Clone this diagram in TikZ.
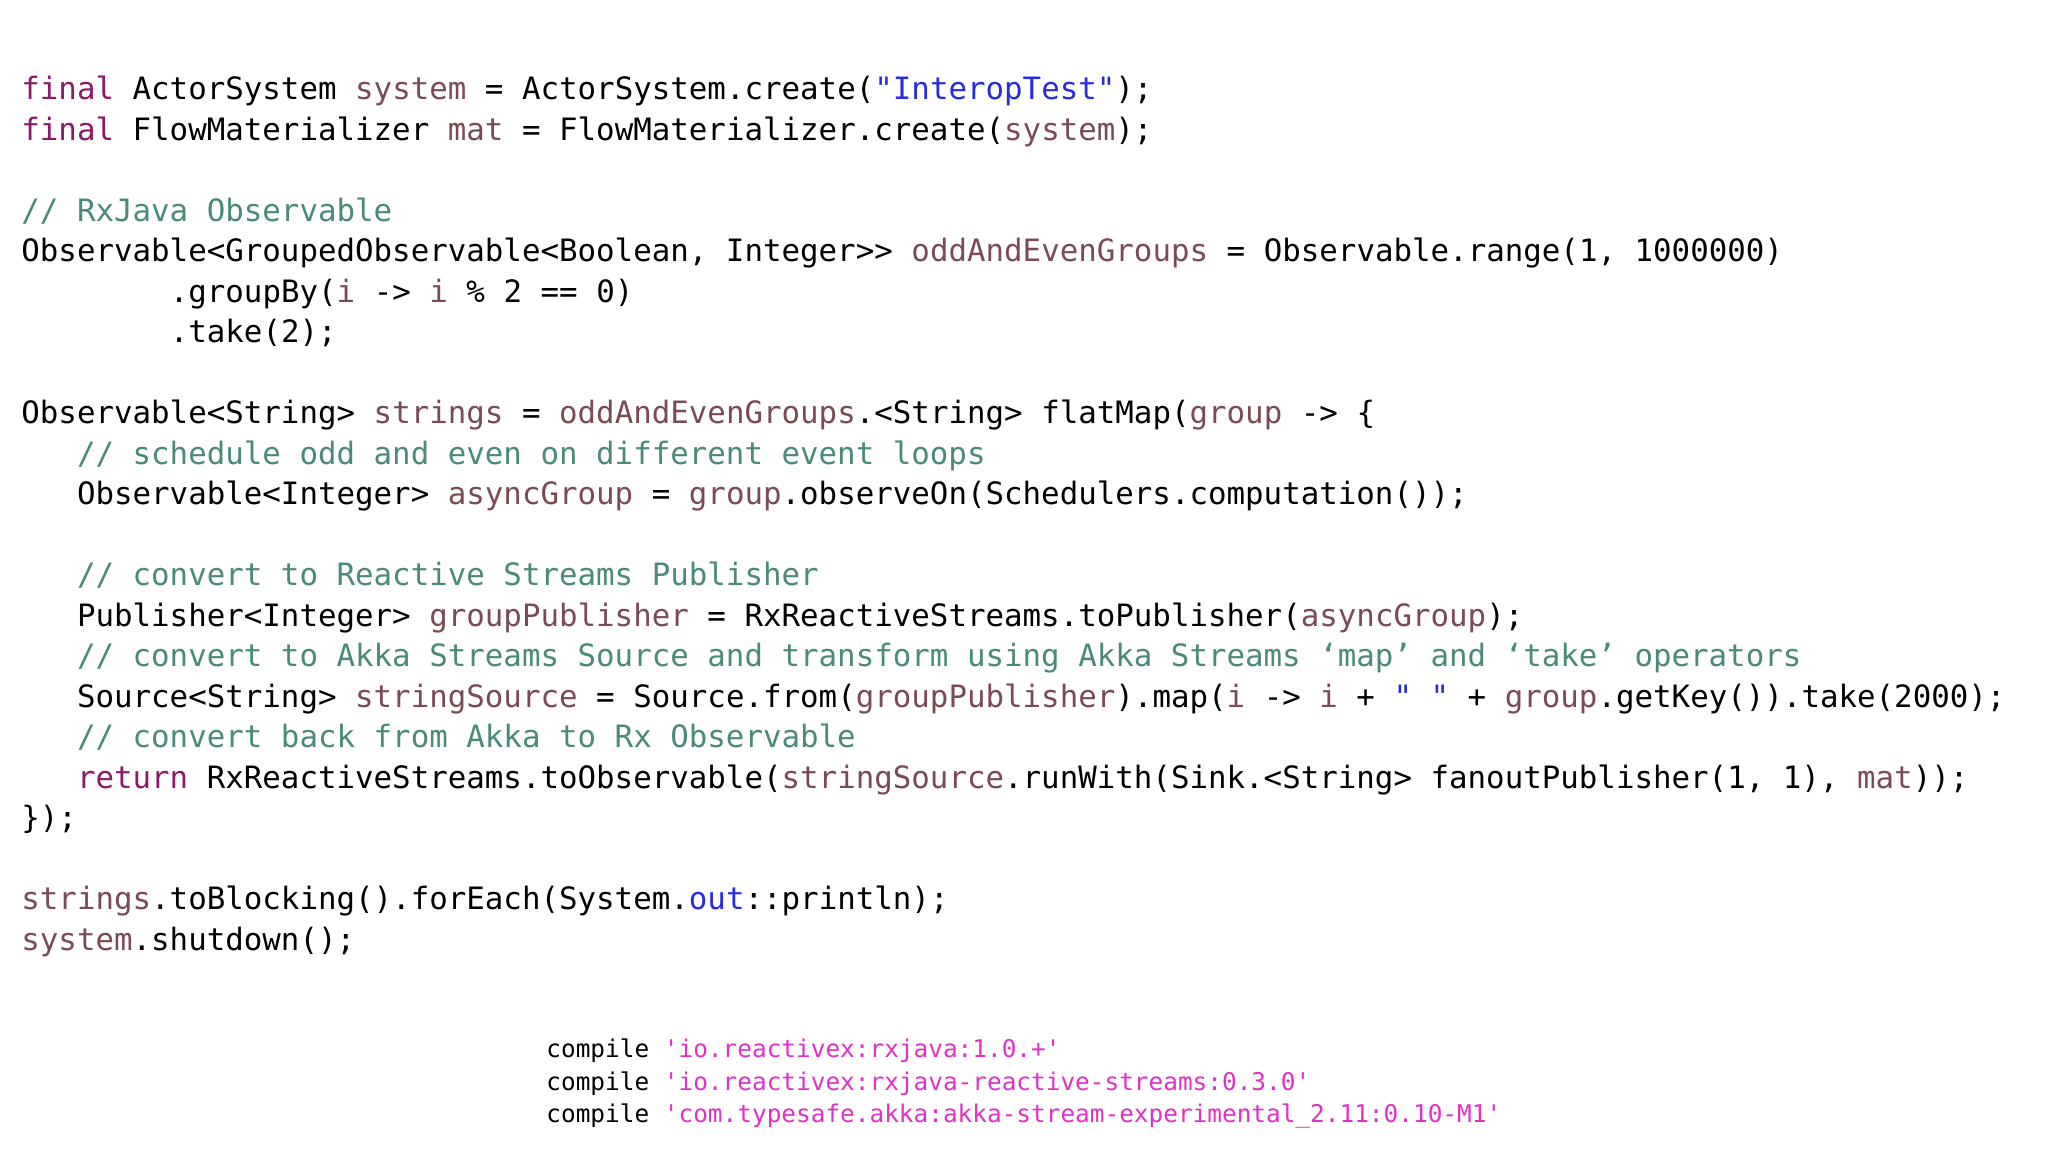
\documentclass[tikz,border=0pt]{standalone}
\usepackage{fontspec}
\setmonofont{DejaVu Sans Mono}
\definecolor{kw}{HTML}{8B1A6B}
\definecolor{vr}{HTML}{7A4B55}
\definecolor{cm}{HTML}{4A8A78}
\definecolor{st}{HTML}{2A2AE0}
\definecolor{mg}{HTML}{E030C8}
\newcommand{\K}[1]{\textcolor{kw}{#1}}
\newcommand{\V}[1]{\textcolor{vr}{#1}}
\newcommand{\Cm}[1]{\textcolor{cm}{#1}}
\newcommand{\Sx}[1]{\textcolor{st}{#1}}
\newcommand{\M}[1]{\textcolor{mg}{#1}}
\begin{document}
\begin{tikzpicture}[x=1pt,y=1pt,
  code/.style={anchor=base west,inner sep=0pt,font=\fontsize{15.4}{18}\ttfamily},
  dep/.style={anchor=base west,inner sep=0pt,font=\fontsize{12.2}{14}\ttfamily}]
\useasboundingbox (0,0) rectangle (1024,576);
\def\L{20.25}
\def\T{526.2}
\def\X{10.5}
\def\I{27.8}
\node[code] (l0) at (\X,\T) {\K{final} ActorSystem \V{system} = ActorSystem.create(\Sx{"InteropTest"});};
\node[code] (l1) at (\X,\T-1*\L) {\K{final} FlowMaterializer \V{mat} = FlowMaterializer.create(\V{system});};
\node[code] (l3) at (\X,\T-3*\L) {\Cm{// RxJava Observable}};
\node[code] (l4) at (\X,\T-4*\L) {Observable<GroupedObservable<Boolean, Integer>{}> \V{oddAndEvenGroups} = Observable.range(1, 1000000)};
\node[code] (l5) at (\X+74.2,\T-5*\L) {.groupBy(\V{i} -> \V{i} \% 2 == 0)};
\node[code] (l6) at (\X+74.2,\T-6*\L) {.take(2);};
\node[code] (l8) at (\X,\T-8*\L) {Observable<String> \V{strings} = \V{oddAndEvenGroups}.<String> flatMap(\V{group} -> \{};
\node[code] (l9) at (\X+\I,\T-9*\L) {\Cm{// schedule odd and even on different event loops}};
\node[code] (l10) at (\X+\I,\T-10*\L) {Observable<Integer> \V{asyncGroup} = \V{group}.observeOn(Schedulers.computation());};
\node[code] (l12) at (\X+\I,\T-12*\L) {\Cm{// convert to Reactive Streams Publisher}};
\node[code] (l13) at (\X+\I,\T-13*\L) {Publisher<Integer> \V{groupPublisher} = RxReactiveStreams.toPublisher(\V{asyncGroup});};
\node[code] (l14) at (\X+\I,\T-14*\L) {\Cm{// convert to Akka Streams Source and transform using Akka Streams ‘map’ and ‘take’ operators}};
\node[code] (l15) at (\X+\I,\T-15*\L) {Source<String> \V{stringSource} = Source.from(\V{groupPublisher}).map(\V{i} -> \V{i} + \Sx{" "} + \V{group}.getKey()).take(2000);};
\node[code] (l16) at (\X+\I,\T-16*\L) {\Cm{// convert back from Akka to Rx Observable}};
\node[code] (l17) at (\X+\I,\T-17*\L) {\K{return} RxReactiveStreams.toObservable(\V{stringSource}.runWith(Sink.<String> fanoutPublisher(1, 1), \V{mat}));};
\node[code] (l18) at (\X,\T-18*\L) {\});};
\node[code] (l20) at (\X,\T-20*\L) {\V{strings}.toBlocking().forEach(System.\Sx{out}::println);};
\node[code] (l21) at (\X,\T-21*\L) {\V{system}.shutdown();};
\node[dep] (d1) at (273,47.2) {compile \M{\textquotesingle io.reactivex:rxjava:1.0.+\textquotesingle}};
\node[dep] (d2) at (273,30.9) {compile \M{\textquotesingle io.reactivex:rxjava-reactive-streams:0.3.0\textquotesingle}};
\node[dep] (d3) at (273,14.6) {compile \M{\textquotesingle com.typesafe.akka:akka-stream-experimental\_2.11:0.10-M1\textquotesingle}};
\end{tikzpicture}
\end{document}
